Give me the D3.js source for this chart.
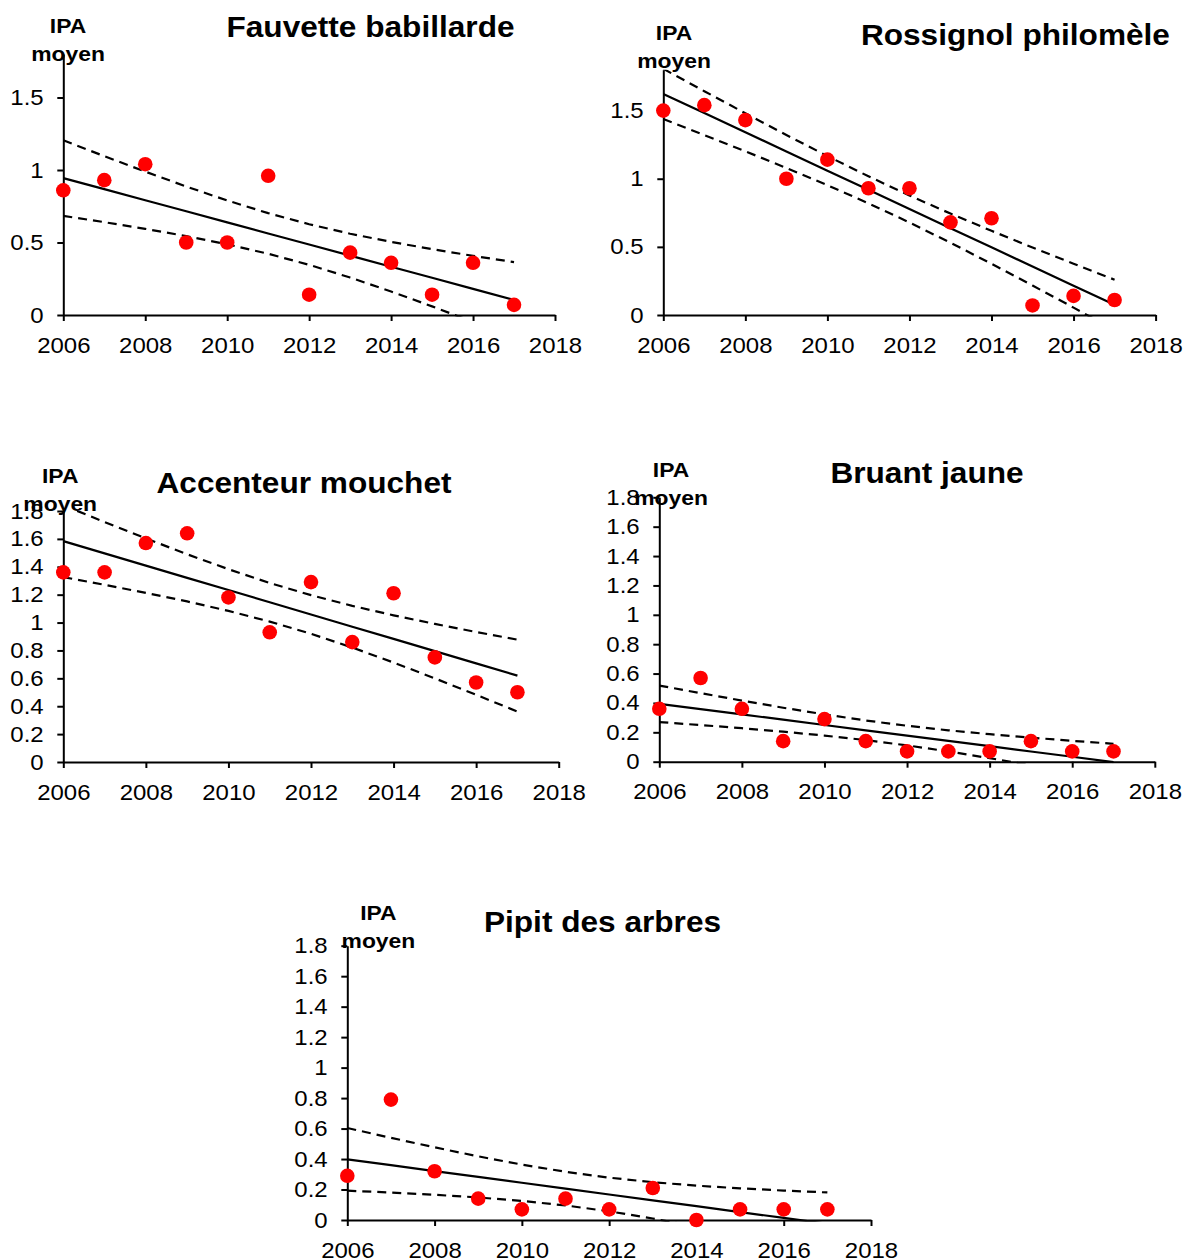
<!DOCTYPE html>
<html>
<head>
<meta charset="utf-8">
<script src="https://cdn.jsdelivr.net/npm/d3@7"></script>
<style>
  body { margin: 0; background: #fff; }
  svg { display: block; font-family: "Liberation Sans", Arial, sans-serif; }
</style>
</head>
<body>
<svg id="chart" width="1185" height="1258"></svg>
<script>
//---- Data -------------------------------------------------------------------------------------
var years = [2006, 2007, 2008, 2009, 2010, 2011, 2012, 2013, 2014, 2015, 2016, 2017];
var xTicks = [2006, 2008, 2010, 2012, 2014, 2016, 2018];
var yTicksHalf = [0, 0.5, 1, 1.5];
var yTicksFifth = [0, 0.2, 0.4, 0.6, 0.8, 1, 1.2, 1.4, 1.6, 1.8];

// IPA moyen per year
var fauvette  = [0.86, 0.93, 1.04, 0.50, 0.50, 0.96, 0.14, 0.43, 0.36, 0.14, 0.36, 0.07];
var rossignol = [1.50, 1.54, 1.43, 1.00, 1.14, 0.93, 0.93, 0.68, 0.71, 0.07, 0.14, 0.11];
var accenteur = [1.36, 1.36, 1.57, 1.64, 1.18, 0.93, 1.29, 0.86, 1.21, 0.75, 0.57, 0.50];
var bruant    = [0.36, 0.57, 0.36, 0.14, 0.29, 0.14, 0.07, 0.07, 0.07, 0.14, 0.07, 0.07];
var pipit     = [0.29, 0.79, 0.32, 0.14, 0.07, 0.14, 0.07, 0.21, 0.00, 0.07, 0.07, 0.07];

var titles = ["Fauvette babillarde", "Rossignol philomèle", "Accenteur mouchet", "Bruant jaune", "Pipit des arbres"];

var T_CRIT = 2.228;   // t(0.975, n-2 = 10) for the 95% band of the fitted mean
var SX = 1.09;        // the original picture is stretched a little horizontally

//---- Layout ------------------------------------------------------------------------------------
var panels = [
  { data: fauvette,  title: titles[0], yTicks: yTicksHalf,  x0: 63.3,  x1: 555,   yb: 315,    yt: 54,    tx: 370.5,  ty: 37.3,  ix: 68,    iy: 33.3 },
  { data: rossignol, title: titles[1], yTicks: yTicksHalf,  x0: 663.3, x1: 1155.6, yb: 315,   yt: 69.7,  tx: 1015.4, ty: 45,    ix: 674,   iy: 40 },
  { data: accenteur, title: titles[2], yTicks: yTicksFifth, x0: 63.3,  x1: 558.7, yb: 762,    yt: 511,   tx: 304,    ty: 493.3, ix: 60.2,  iy: 482.7 },
  { data: bruant,    title: titles[3], yTicks: yTicksFifth, x0: 659.3, x1: 1154.8, yb: 761.7, yt: 497.3, tx: 927,    ty: 482.7, ix: 671,   iy: 477 },
  { data: pipit,     title: titles[4], yTicks: yTicksFifth, x0: 347.3, x1: 871,   yb: 1220,   yt: 945.7, tx: 602.5,  ty: 931.7, ix: 378.4, iy: 920 }
];

var svg = d3.select("#chart");

// least squares fit + 95% confidence band of the mean
function fitBand(ys) {
  var n = ys.length;
  var xs = years.map(function (y) { return y - years[0]; });
  var mx = d3.mean(xs), my = d3.mean(ys);
  var sxx = d3.sum(xs, function (x) { return (x - mx) * (x - mx); });
  var sxy = d3.sum(xs, function (x, i) { return (x - mx) * (ys[i] - my); });
  var b = sxy / sxx, a = my - b * mx;
  var sse = d3.sum(xs, function (x, i) { var r = ys[i] - a - b * x; return r * r; });
  var s = Math.sqrt(sse / (n - 2));
  return years.map(function (yr, i) {
    var x = xs[i], yhat = a + b * x;
    var h = T_CRIT * s * Math.sqrt(1 / n + (x - mx) * (x - mx) / sxx);
    return { year: yr, fit: yhat, lo: yhat - h, hi: yhat + h };
  });
}

function fmt(d) { return String(+d.toFixed(1)); }

function drawPanel(p, idx) {
  var g = svg.append("g").attr("class", "panel" + idx);

  var x = d3.scaleLinear().domain([2006, 2018]).range([p.x0, p.x1]);
  var y = d3.scaleLinear().domain([0, 1.8]).range([p.yb, p.yt]);

  // clip for the fit lines
  var clipId = "clip" + idx;
  svg.append("defs").append("clipPath").attr("id", clipId)
    .append("rect")
    .attr("x", p.x0 - 2).attr("y", p.yt)
    .attr("width", p.x1 - p.x0 + 2).attr("height", p.yb - p.yt + 1.5);

  // axes
  var xAxis = d3.axisBottom(x).tickValues(xTicks).tickFormat(d3.format("d"))
    .tickSize(6).tickSizeOuter(0).tickPadding(16);
  var yAxis = d3.axisLeft(y).tickValues(p.yTicks).tickFormat(fmt)
    .tickSize(6).tickSizeOuter(0).tickPadding(12);

  var gx = g.append("g").attr("transform", "translate(0," + p.yb + ")").call(xAxis);
  var gy = g.append("g").attr("transform", "translate(" + p.x0 + ",0)").call(yAxis);
  [gx, gy].forEach(function (ax) {
    ax.select(".domain").attr("stroke", "#000").attr("stroke-width", 2);
    ax.selectAll(".tick line").attr("stroke", "#000").attr("stroke-width", 2);
    ax.selectAll("text")
      .attr("fill", "#000")
      .style("font-family", "'Liberation Sans', Arial, sans-serif")
      .style("font-size", "22px")
      .attr("transform", "scale(" + SX + ",1)");
  });

  // fit + band
  var band = fitBand(p.data);
  var lines = g.append("g").attr("clip-path", "url(#" + clipId + ")");
  var mk = function (key) {
    return d3.line().x(function (d) { return x(d.year); }).y(function (d) { return y(d[key]); });
  };
  lines.append("path").datum(band).attr("d", mk("hi"))
    .attr("fill", "none").attr("stroke", "#000").attr("stroke-width", 2.2).attr("stroke-dasharray", "9,6");
  lines.append("path").datum(band).attr("d", mk("lo"))
    .attr("fill", "none").attr("stroke", "#000").attr("stroke-width", 2.2).attr("stroke-dasharray", "9,6");
  lines.append("path").datum(band).attr("d", mk("fit"))
    .attr("fill", "none").attr("stroke", "#000").attr("stroke-width", 2.2);

  // observed points
  g.append("g").selectAll("circle")
    .data(p.data)
    .enter()
    .append("circle")
    .attr("cx", function (d, i) { return x(years[i]); })
    .attr("cy", function (d) { return y(d); })
    .attr("r", 7.3)
    .attr("fill", "#ff0000");

  // title
  g.append("text")
    .attr("transform", "translate(" + p.tx + "," + p.ty + ") scale(" + SX + ",1)")
    .attr("text-anchor", "middle")
    .style("font-size", "29px").style("font-weight", "bold")
    .text(p.title);

  // y axis label, two lines
  g.append("text")
    .attr("transform", "translate(" + p.ix + "," + p.iy + ") scale(" + SX + ",1)")
    .attr("text-anchor", "middle")
    .style("font-size", "21px").style("font-weight", "bold")
    .text("IPA");
  g.append("text")
    .attr("transform", "translate(" + p.ix + "," + (p.iy + 28) + ") scale(" + SX + ",1)")
    .attr("text-anchor", "middle")
    .style("font-size", "21px").style("font-weight", "bold")
    .text("moyen");
}

panels.forEach(drawPanel);
</script>
</body>
</html>
